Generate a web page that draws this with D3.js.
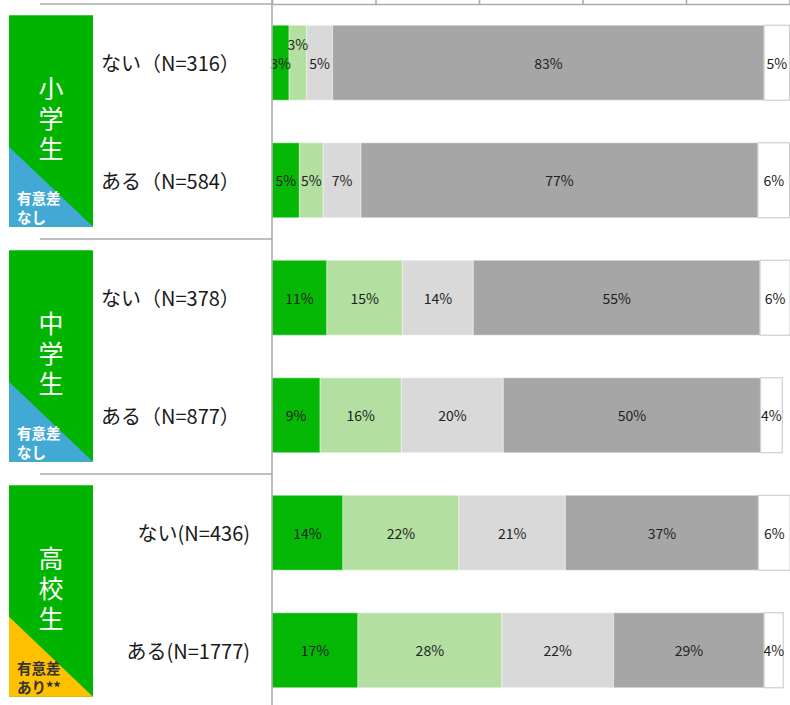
<!DOCTYPE html>
<html>
<head>
<meta charset="utf-8">
<script src="https://cdn.jsdelivr.net/npm/d3@7"></script>
<style>
  body { margin: 0; background: #fff; }
  text { font-family: "Noto Sans CJK JP", "Noto Sans", sans-serif; }
</style>
</head>
<body>
<script>
/* data */
var groups = ["小学生", "中学生", "高校生"];
var sigLines = [["有意差", "なし"], ["有意差", "なし"], ["有意差", "あり**"]];
var rowLabels = ["ない（N=316）", "ある（N=584）", "ない（N=378）", "ある（N=877）", "ない(N=436)", "ある(N=1777)"];
var seriesKeys = ["s1", "s2", "s3", "s4", "s5"];
var rowValues = [
	[3.3, 3.4, 5.0, 83.4, 4.9],
	[5.3, 4.6, 7.3, 76.7, 6.1],
	[10.6, 14.6, 13.7, 55.4, 5.8],
	[9.3, 15.7, 19.7, 49.7, 4.2],
	[13.7, 22.4, 20.6, 37.3, 6.1],
	[16.6, 27.8, 21.6, 29.1, 3.7]
];
var xTicks = [0, 20, 40, 60, 80, 100];

/* styles */
var segColors = ["#06b806", "#b3dfa0", "#d9d9d9", "#a6a6a6", "#ffffff"];
var sigColors = ["#42a9d5", "#42a9d5", "#ffc000"];
var sigText = ["#ffffff", "#ffffff", "#333333"];
var lineColor = "#ababab";

var w = 790, h = 705;

var svg = d3.select("body").append("svg")
	.attr("width", w)
	.attr("height", h);

/* scales */
var xScale = d3.scaleLinear()
	.domain([0, 100])
	.range([272, 789.5]);

var yScale = d3.scaleBand()
	.domain(rowLabels)
	.range([4, 709])
	.paddingInner(0.362)
	.paddingOuter(0.181);

var bw = yScale.bandwidth();

/* stacked data */
var table = rowValues.map(function(v, i) {
	var o = { label: rowLabels[i] };
	seriesKeys.forEach(function(k, j) { o[k] = v[j]; });
	return o;
});
var stacked = d3.stack().keys(seriesKeys)(table);

/* bars */
var layers = svg.append("g").selectAll("g")
	.data(stacked)
	.join("g")
	.attr("fill", (d, i) => segColors[i]);

layers.selectAll("rect")
	.data(d => d.map(p => ({ p: p, key: d.key, idx: d.index })))
	.join("rect")
	.attr("x", d => xScale(d.p[0]))
	.attr("y", d => yScale(d.p.data.label))
	.attr("width", d => xScale(d.p[1]) - xScale(d.p[0]))
	.attr("height", bw)
	.attr("stroke", d => d.idx == 4 ? "#d0d0d0" : "rgba(255,255,255,0.35)")
	.attr("stroke-width", 1.2);

/* bar labels */
var labelData = [];
stacked.forEach(function(layer, j) {
	layer.forEach(function(p, i) {
		labelData.push({ row: i, j: j, p: p, v: rowValues[i][j] });
	});
});
// narrow neighbour segments: push the second one up
labelData.forEach(function(d) {
	d.dy = 0;
	if (d.j > 0 && d.v < 4 && rowValues[d.row][d.j - 1] < 4) d.dy = -19;
});

svg.append("g").selectAll("text")
	.data(labelData)
	.join("text")
	.attr("x", d => (xScale(d.p[0]) + xScale(d.p[1])) / 2)
	.attr("y", d => yScale(d.p.data.label) + bw / 2 + d.dy)
	.attr("text-anchor", "middle")
	.attr("dominant-baseline", "central")
	.attr("font-size", 14)
	.attr("fill", "#222")
	.text(d => Math.round(d.v) + "%");

/* top axis */
var xAxis = d3.axisTop(xScale)
	.tickValues(xTicks)
	.tickSize(4)
	.tickSizeOuter(0)
	.tickFormat("");

var axisG = svg.append("g")
	.attr("transform", "translate(0,4)")
	.call(xAxis);
axisG.selectAll("path, line")
	.attr("stroke", lineColor)
	.attr("stroke-width", 1.6);

/* vertical axis line */
svg.append("line")
	.attr("x1", xScale(0)).attr("x2", xScale(0))
	.attr("y1", 0).attr("y2", h)
	.attr("stroke", lineColor)
	.attr("stroke-width", 1.6);

/* group separators on the left */
var sepY = [4];
for (var g = 1; g < groups.length; g++) {
	var prevBottom = yScale(rowLabels[2 * g - 1]) + bw;
	var nextTop = yScale(rowLabels[2 * g]);
	sepY.push((prevBottom + nextTop) / 2);
}
svg.append("g").selectAll("line")
	.data(sepY)
	.join("line")
	.attr("x1", 40).attr("x2", xScale(0))
	.attr("y1", d => d).attr("y2", d => d)
	.attr("stroke", lineColor)
	.attr("stroke-width", 1.6);

/* group boxes */
var boxX = 9, boxW = 84;
groups.forEach(function(name, g) {
	var top = yScale(rowLabels[2 * g]) - 10,
		bottom = yScale(rowLabels[2 * g + 1]) + bw + 9,
		mid = (top + bottom) / 2;
	var box = svg.append("g");
	box.append("rect")
		.attr("x", boxX).attr("y", top)
		.attr("width", boxW).attr("height", bottom - top)
		.attr("fill", "#00b400");
	box.append("path")
		.attr("d", "M" + boxX + "," + (bottom - 80) + "L" + (boxX + boxW) + "," + bottom + "L" + boxX + "," + bottom + "Z")
		.attr("fill", sigColors[g]);
	// vertical group name
	box.append("text")
		.attr("x", boxX + boxW / 2)
		.attr("y", mid)
		.attr("text-anchor", "middle")
		.style("writing-mode", "vertical-rl")
		.attr("letter-spacing", 5)
		.attr("font-size", 25)
		.attr("fill", "#fff")
		.text(name);
	sigLines[g].forEach(function(t, k) {
		box.append("text")
			.attr("x", 17)
			.attr("y", bottom - 23 + k * 19)
			.attr("font-size", 14.5)
			.attr("font-weight", "bold")
			.attr("fill", sigText[g])
			.text(t);
	});
});

/* row labels */
svg.append("g").selectAll("text")
	.data(rowLabels)
	.join("text")
	.attr("x", (d, i) => i < 4 ? 101 : 250)
	.attr("text-anchor", (d, i) => i < 4 ? "start" : "end")
	.attr("y", d => yScale(d) + bw / 2)
	.attr("dominant-baseline", "central")
	.attr("font-size", 20)
	.attr("fill", "#1a1a1a")
	.text(d => d);
</script>
</body>
</html>
